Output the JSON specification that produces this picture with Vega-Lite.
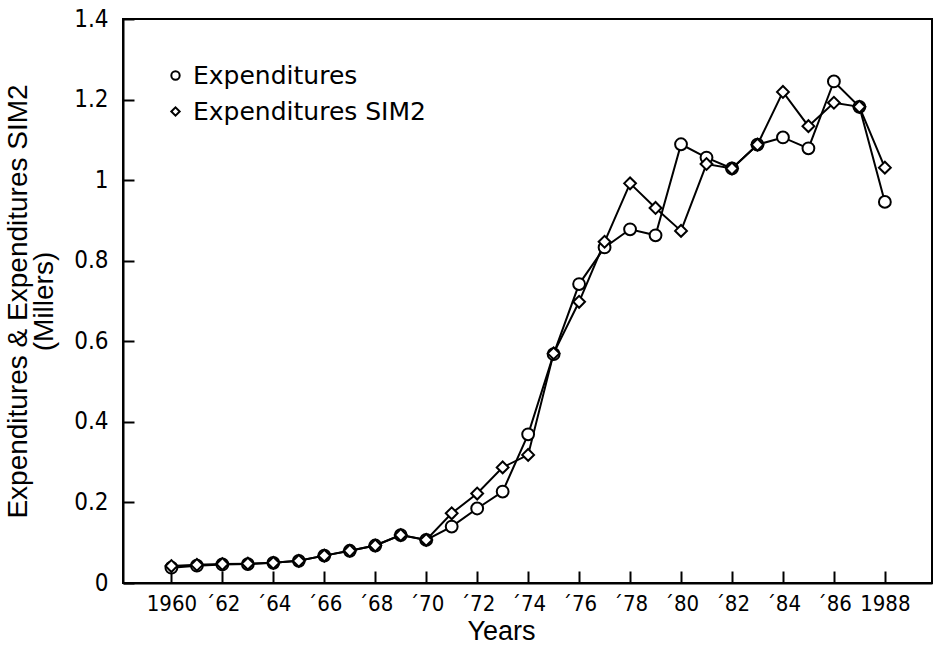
{
  "$schema": "https://vega.github.io/schema/vega-lite/v6.json",
  "width": 809,
  "height": 564,
  "autosize": {"type": "none"},
  "padding": {"left": 123, "top": 19, "right": 4, "bottom": 73},
  "background": "white",
  "config": {
    "view": {"stroke": "black", "strokeWidth": 2},
    "axis": {
      "grid": false,
      "domainColor": "black",
      "domainWidth": 2,
      "tickColor": "black",
      "tickWidth": 2,
      "labelColor": "black",
      "labelFont": "DejaVu Sans Condensed",
      "labelFontSize": 22,
      "titleColor": "black",
      "titleFont": "Liberation Sans",
      "titleFontWeight": "normal"
    }
  },
  "data": {
    "values": [
      {"year": 1960, "series": "Expenditures", "value": 0.038},
      {"year": 1961, "series": "Expenditures", "value": 0.043},
      {"year": 1962, "series": "Expenditures", "value": 0.046},
      {"year": 1963, "series": "Expenditures", "value": 0.047},
      {"year": 1964, "series": "Expenditures", "value": 0.05},
      {"year": 1965, "series": "Expenditures", "value": 0.055},
      {"year": 1966, "series": "Expenditures", "value": 0.068},
      {"year": 1967, "series": "Expenditures", "value": 0.08},
      {"year": 1968, "series": "Expenditures", "value": 0.093},
      {"year": 1969, "series": "Expenditures", "value": 0.119},
      {"year": 1970, "series": "Expenditures", "value": 0.107},
      {"year": 1971, "series": "Expenditures", "value": 0.14},
      {"year": 1972, "series": "Expenditures", "value": 0.185},
      {"year": 1973, "series": "Expenditures", "value": 0.227},
      {"year": 1974, "series": "Expenditures", "value": 0.369},
      {"year": 1975, "series": "Expenditures", "value": 0.568},
      {"year": 1976, "series": "Expenditures", "value": 0.742},
      {"year": 1977, "series": "Expenditures", "value": 0.833},
      {"year": 1978, "series": "Expenditures", "value": 0.878},
      {"year": 1979, "series": "Expenditures", "value": 0.863},
      {"year": 1980, "series": "Expenditures", "value": 1.089},
      {"year": 1981, "series": "Expenditures", "value": 1.056},
      {"year": 1982, "series": "Expenditures", "value": 1.029},
      {"year": 1983, "series": "Expenditures", "value": 1.088},
      {"year": 1984, "series": "Expenditures", "value": 1.106},
      {"year": 1985, "series": "Expenditures", "value": 1.079},
      {"year": 1986, "series": "Expenditures", "value": 1.245},
      {"year": 1987, "series": "Expenditures", "value": 1.182},
      {"year": 1988, "series": "Expenditures", "value": 0.946},
      {"year": 1960, "series": "Expenditures SIM2", "value": 0.042},
      {"year": 1961, "series": "Expenditures SIM2", "value": 0.045},
      {"year": 1962, "series": "Expenditures SIM2", "value": 0.047},
      {"year": 1963, "series": "Expenditures SIM2", "value": 0.048},
      {"year": 1964, "series": "Expenditures SIM2", "value": 0.05},
      {"year": 1965, "series": "Expenditures SIM2", "value": 0.055},
      {"year": 1966, "series": "Expenditures SIM2", "value": 0.068},
      {"year": 1967, "series": "Expenditures SIM2", "value": 0.08},
      {"year": 1968, "series": "Expenditures SIM2", "value": 0.093},
      {"year": 1969, "series": "Expenditures SIM2", "value": 0.119},
      {"year": 1970, "series": "Expenditures SIM2", "value": 0.107},
      {"year": 1971, "series": "Expenditures SIM2", "value": 0.173},
      {"year": 1972, "series": "Expenditures SIM2", "value": 0.222},
      {"year": 1973, "series": "Expenditures SIM2", "value": 0.287},
      {"year": 1974, "series": "Expenditures SIM2", "value": 0.318},
      {"year": 1975, "series": "Expenditures SIM2", "value": 0.57},
      {"year": 1976, "series": "Expenditures SIM2", "value": 0.698},
      {"year": 1977, "series": "Expenditures SIM2", "value": 0.847},
      {"year": 1978, "series": "Expenditures SIM2", "value": 0.992},
      {"year": 1979, "series": "Expenditures SIM2", "value": 0.931},
      {"year": 1980, "series": "Expenditures SIM2", "value": 0.874},
      {"year": 1981, "series": "Expenditures SIM2", "value": 1.04},
      {"year": 1982, "series": "Expenditures SIM2", "value": 1.029},
      {"year": 1983, "series": "Expenditures SIM2", "value": 1.088},
      {"year": 1984, "series": "Expenditures SIM2", "value": 1.219},
      {"year": 1985, "series": "Expenditures SIM2", "value": 1.134},
      {"year": 1986, "series": "Expenditures SIM2", "value": 1.192},
      {"year": 1987, "series": "Expenditures SIM2", "value": 1.182},
      {"year": 1988, "series": "Expenditures SIM2", "value": 1.031}
    ]
  },
  "encoding": {
    "x": {
      "field": "year",
      "type": "quantitative",
      "scale": {"domain": [1958.1, 1989.85], "nice": false, "zero": false},
      "axis": {
        "title": "Years",
        "titleFontSize": 27,
        "titleX": 378,
        "values": [1960, 1962, 1964, 1966, 1968, 1970, 1972, 1974, 1976, 1978, 1980, 1982, 1984, 1986, 1988],
        "labelExpr": "datum.value == 1960 || datum.value == 1988 ? '' + datum.value : '´' + substring('' + datum.value, 2, 4)",
        "tickSize": -12,
        "labelPadding": 22,
        "titlePadding": 4
      }
    },
    "y": {
      "field": "value",
      "type": "quantitative",
      "scale": {"domain": [0, 1.4], "nice": false},
      "axis": {
        "title": ["Expenditures & Expenditures SIM2", "(Millers)"],
        "titleFontSize": 28,
        "values": [0, 0.2, 0.4, 0.6, 0.8, 1, 1.2, 1.4],
        "format": ".1~f",
        "labelFontSize": 24,
        "tickSize": -11,
        "labelPadding": 26,
        "titlePadding": 15,
        "titleLineHeight": 26
      }
    }
  },
  "layer": [
    {
      "mark": {"type": "line", "color": "black", "strokeWidth": 2},
      "encoding": {"detail": {"field": "series", "type": "nominal"}}
    },
    {
      "mark": {"type": "point", "filled": false, "fill": "white", "color": "black", "strokeWidth": 2, "opacity": 1, "size": 140},
      "encoding": {
        "shape": {
          "field": "series",
          "type": "nominal",
          "scale": {"domain": ["Expenditures", "Expenditures SIM2"], "range": ["circle", "diamond"]},
          "legend": {
            "title": null,
            "orient": "none",
            "legendX": 40,
            "legendY": 44,
            "symbolSize": 70,
            "symbolStrokeWidth": 2,
            "labelFont": "DejaVu Sans",
            "labelFontSize": 25,
            "labelLimit": 400,
            "labelColor": "black",
            "rowPadding": 10,
            "labelOffset": 5
          }
        }
      }
    }
  ]
}
